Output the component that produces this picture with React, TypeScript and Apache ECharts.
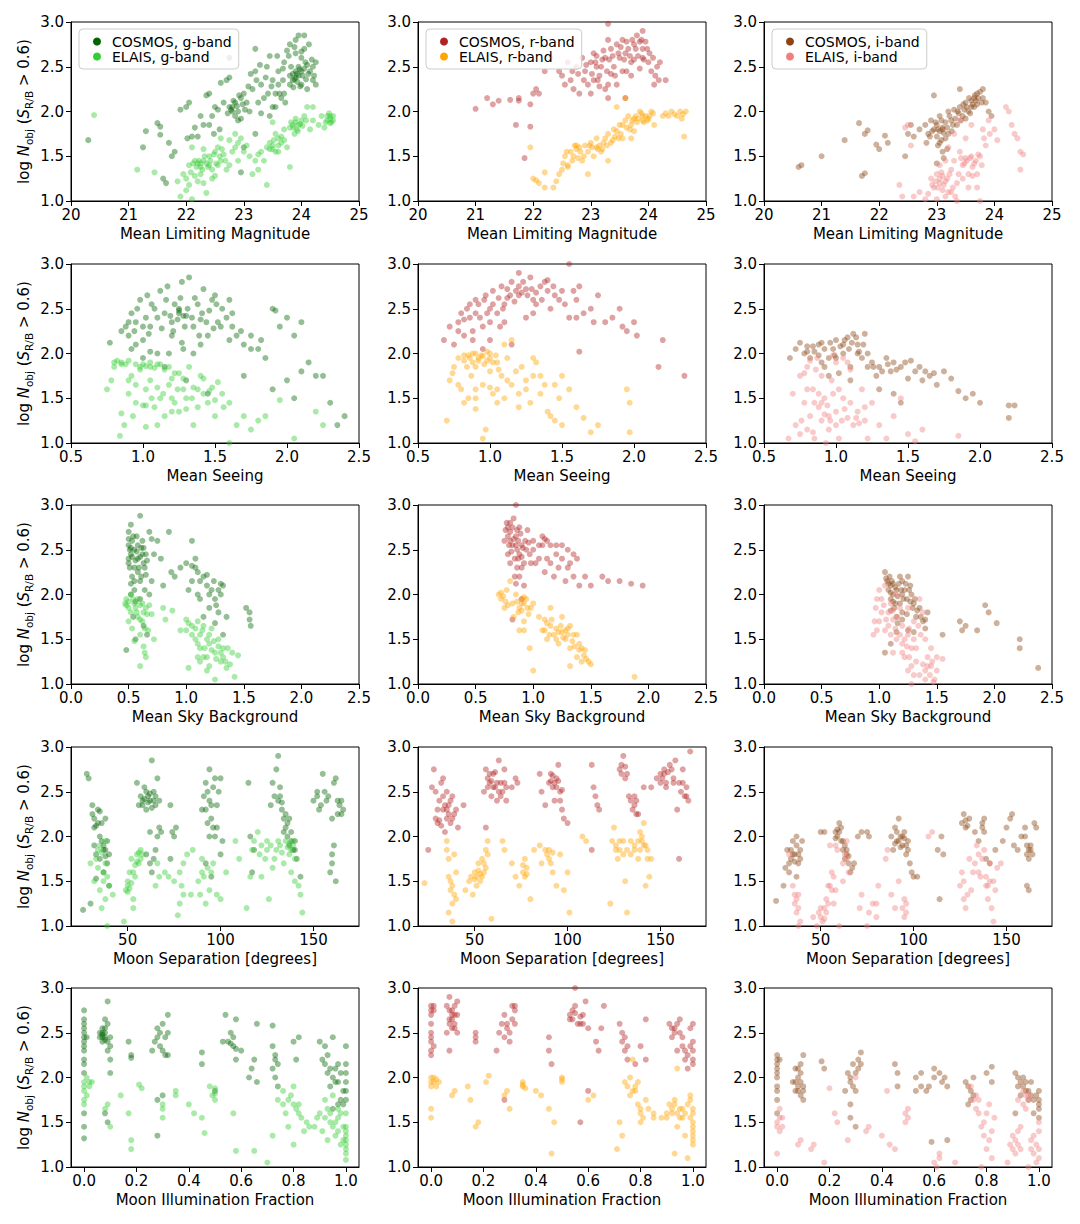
import React, { useEffect, useRef } from "react";
import * as echarts from "echarts";

// ---------- colours ----------
const C_COSMOS_G = "#006400";
const C_ELAIS_G = "#32cd32";
const C_COSMOS_R = "#b22222";
const C_ELAIS_R = "#ffa500";
const C_COSMOS_I = "#8b4513";
const C_ELAIS_I = "#f08080";

const seriesNames = [
  ["COSMOS, g-band", "ELAIS, g-band"],
  ["COSMOS, r-band", "ELAIS, r-band"],
  ["COSMOS, i-band", "ELAIS, i-band"],
];
const seriesColors = [
  [C_COSMOS_G, C_ELAIS_G],
  [C_COSMOS_R, C_ELAIS_R],
  [C_COSMOS_I, C_ELAIS_I],
];

// ---------- axis tick labels ----------
const magTicks = [20, 21, 22, 23, 24, 25];
const seeingTicks = [0.5, 1.0, 1.5, 2.0, 2.5];
const skyTicks = [0, 0.5, 1.0, 1.5, 2.0, 2.5];
const sepTicks = [50, 100, 150];
const illumTicks = [0, 0.2, 0.4, 0.6, 0.8, 1.0];

// ---------- row 1 : mean limiting magnitude ----------
const magCosmosG = [[20.3,1.68],[21.3,1.78],[21.25,1.6],[21.5,1.87],[21.55,1.83],[21.55,1.74],[21.6,1.25],[21.65,1.2],[21.7,1.65],[21.75,1.5],[21.8,1.55],[21.9,2.02],[22.0,2.05],[22.05,2.1],[22.1,1.72],[22.2,1.72],[22.3,1.85],[22.35,2.18],[22.4,2.2],[22.45,1.95],[22.5,2.05],[22.55,2.02],[22.6,2.32],[22.65,2.1],[22.7,2.35],[22.75,2.38],[22.75,2.6],[22.8,2.05],[22.85,2.1],[22.9,2.0],[22.85,1.95],[22.95,2.15],[23.0,2.2],[23.05,2.1],[23.1,2.0],[23.15,2.25],[23.2,2.45],[23.2,2.7],[23.3,2.3],[23.35,2.15],[23.4,2.5],[23.45,2.62],[23.5,2.05],[23.5,2.35],[23.55,2.2],[23.6,2.45],[23.6,2.3],[23.65,2.15],[23.7,2.55],[23.75,2.68],[23.8,2.75],[23.8,2.4],[23.85,2.35],[23.9,2.38],[23.9,2.45],[23.92,2.42],[23.95,2.5],[24.0,2.3],[24.0,2.6],[24.05,2.48],[24.05,2.7],[24.1,2.52],[24.1,2.25],[24.15,2.45],[24.2,2.35],[24.2,2.5],[24.25,2.3],[23.95,2.85],[23.9,2.8],[24.05,2.85],[22.9,1.9],[22.95,1.32],[23.2,1.75],[23.0,1.6],[23.9,2.65],[24.0,2.67],[23.7,2.2],[23.8,2.3],[22.75,2.05],[22.8,2.0],[23.95,2.4],[24.0,2.45]];
const magCosmosG2 = [[23.85,2.42],[23.88,2.36],[23.93,2.33],[23.97,2.47],[24.02,2.4],[24.07,2.55],[24.12,2.42],[23.82,2.5],[23.98,2.28],[24.08,2.36],[23.86,2.27],[24.18,2.58],[24.22,2.4],[23.78,2.62],[23.88,2.72],[24.13,2.75],[24.25,2.55],[22.78,2.02],[22.82,2.12],[22.88,2.06],[22.92,2.18],[22.98,2.08],[23.02,2.02],[22.72,1.98],[22.95,1.92],[23.08,2.28],[23.25,2.1],[23.38,2.38],[23.42,2.2],[23.48,2.28],[23.55,2.05],[23.62,2.2],[23.68,2.35],[23.72,2.1],[23.45,1.95],[23.3,1.98],[23.22,2.35],[22.58,1.8],[22.48,1.75],[22.4,1.85],[22.25,1.95],[22.15,1.82],[22.02,1.7],[23.12,2.42],[23.28,2.52],[23.58,2.62],[23.68,2.48]];
const magElaisG = [[20.4,1.96],[21.15,1.35],[21.45,1.32],[21.85,1.22],[21.9,1.05],[21.95,1.3],[22.0,1.25],[22.0,1.12],[22.05,1.18],[22.05,1.4],[22.1,1.6],[22.15,1.45],[22.2,1.42],[22.25,1.38],[22.25,1.3],[22.3,1.45],[22.35,1.42],[22.35,1.09],[22.4,1.5],[22.45,1.35],[22.5,1.55],[22.5,1.28],[22.55,1.6],[22.55,1.4],[22.6,1.45],[22.6,1.7],[22.65,1.52],[22.7,1.35],[22.75,1.68],[22.8,1.55],[22.85,1.75],[22.9,1.65],[22.2,1.22],[22.1,1.02],[22.3,1.2],[23.0,1.55],[23.1,1.5],[23.15,1.3],[23.2,1.45],[23.3,1.55],[23.35,1.45],[23.4,1.6],[23.45,1.65],[23.5,1.58],[23.55,1.75],[23.5,1.88],[23.6,1.7],[23.65,1.65],[23.7,1.8],[23.75,1.6],[23.8,1.82],[23.85,1.85],[23.9,1.88],[23.95,1.85],[23.92,1.8],[24.0,1.9],[24.05,1.95],[24.1,2.05],[24.2,1.9],[24.3,1.85],[24.35,1.95],[24.45,1.9],[24.5,1.95],[24.55,1.9],[24.5,1.87],[23.8,1.38],[23.4,1.18],[23.25,1.35],[24.2,2.05],[24.15,1.8],[24.4,1.82],[22.9,1.45],[23.6,1.55],[22.25,1.42],[22.4,1.4]];
const magElaisG2 = [[22.12,1.42],[22.18,1.38],[22.22,1.45],[22.28,1.35],[22.32,1.5],[22.38,1.38],[22.42,1.45],[22.48,1.52],[22.52,1.42],[22.58,1.5],[22.62,1.58],[22.68,1.45],[22.15,1.28],[22.45,1.25],[22.08,1.32],[22.3,1.58],[23.82,1.88],[23.86,1.82],[23.9,1.92],[23.94,1.78],[23.98,1.86],[24.02,1.84],[23.88,1.75],[24.08,1.9],[23.45,1.58],[23.5,1.62],[23.55,1.55],[23.6,1.62],[23.65,1.72],[23.7,1.68],[23.52,1.68],[24.45,1.95],[24.5,1.92],[24.52,1.88],[24.55,1.95],[24.48,1.98],[24.42,1.88],[22.85,1.6],[23.05,1.62],[23.25,1.52],[22.75,1.4],[22.95,1.7]];
const magCosmosR = [[21.0,2.03],[21.2,2.15],[21.3,2.08],[21.4,2.12],[21.6,2.13],[21.75,2.15],[21.75,2.12],[21.7,1.85],[21.95,1.83],[21.85,1.48],[21.95,2.08],[22.0,2.2],[22.05,2.25],[22.1,2.2],[22.2,2.45],[22.3,2.6],[22.45,2.45],[22.55,2.3],[22.65,2.35],[22.7,2.25],[22.75,2.5],[22.8,2.2],[22.85,2.6],[22.9,2.45],[22.95,2.3],[23.0,2.55],[23.0,2.2],[23.05,2.65],[23.1,2.5],[23.15,2.4],[23.2,2.58],[23.25,2.6],[23.3,2.3],[23.3,2.15],[23.35,2.7],[23.4,2.5],[23.45,2.75],[23.5,2.6],[23.55,2.45],[23.55,2.8],[23.6,2.65],[23.65,2.7],[23.7,2.55],[23.75,2.75],[23.8,2.85],[23.85,2.78],[23.9,2.7],[23.95,2.78],[24.0,2.55],[24.05,2.45],[24.1,2.3],[24.15,2.5],[24.2,2.55],[24.3,2.35],[23.3,2.98],[23.9,2.9],[23.3,2.8],[23.6,2.15],[22.6,2.55],[23.1,2.62],[23.7,2.4],[23.9,2.6]];
const magCosmosR2 = [[23.02,2.42],[23.08,2.55],[23.12,2.35],[23.18,2.5],[23.22,2.68],[23.28,2.45],[23.32,2.58],[23.38,2.62],[23.42,2.4],[23.48,2.65],[23.52,2.72],[23.58,2.58],[23.62,2.78],[23.68,2.62],[23.72,2.8],[23.78,2.7],[23.82,2.62],[23.88,2.8],[23.92,2.58],[23.98,2.7],[24.02,2.65],[24.08,2.6],[24.12,2.4],[24.18,2.35],[23.45,2.3],[23.25,2.25],[23.15,2.28],[22.88,2.35],[22.92,2.52],[22.78,2.42],[23.05,2.35],[23.35,2.42],[23.62,2.45],[23.75,2.58],[23.85,2.48],[22.68,2.45],[22.5,2.4]];
const magElaisR = [[21.95,1.6],[22.0,1.25],[22.05,1.23],[22.1,1.2],[22.2,1.15],[22.35,1.15],[22.45,1.3],[22.5,1.35],[22.55,1.5],[22.6,1.4],[22.65,1.55],[22.7,1.5],[22.75,1.58],[22.8,1.6],[22.85,1.45],[22.9,1.62],[22.95,1.55],[23.0,1.65],[23.05,1.5],[23.1,1.7],[23.15,1.62],[23.2,1.58],[23.25,1.7],[23.3,1.75],[23.35,1.65],[23.4,1.8],[23.45,1.78],[23.5,1.85],[23.55,1.7],[23.6,1.9],[23.65,1.95],[23.7,1.85],[23.75,1.92],[23.8,1.88],[23.85,2.0],[23.9,1.9],[23.95,1.95],[24.0,1.92],[24.05,2.0],[24.1,1.85],[24.3,1.98],[24.4,2.0],[24.5,1.95],[24.6,1.97],[24.65,2.0],[24.62,1.72],[23.45,2.05],[23.6,2.15],[22.95,1.3],[22.6,1.38],[23.7,1.7],[22.4,1.22],[23.3,1.45],[22.2,1.32],[22.75,1.62],[23.1,1.6],[23.9,1.95]];
const magElaisR2 = [[23.72,1.9],[23.78,1.95],[23.82,1.92],[23.88,1.98],[23.92,1.88],[23.98,1.9],[24.02,1.95],[24.08,1.98],[23.68,1.8],[23.62,1.82],[23.52,1.75],[23.48,1.7],[23.42,1.72],[23.38,1.68],[23.28,1.62],[23.22,1.65],[23.18,1.55],[23.12,1.58],[23.02,1.6],[22.98,1.62],[22.88,1.5],[22.82,1.55],[22.78,1.48],[22.72,1.62],[22.68,1.45],[22.58,1.55],[22.52,1.42],[24.35,1.95],[24.45,1.97],[24.55,2.0],[24.58,1.92],[24.25,1.95],[23.55,1.85],[23.75,1.78]];
const magCosmosI = [[20.6,1.38],[20.65,1.4],[21.0,1.5],[21.4,1.68],[21.65,1.87],[21.75,1.75],[21.8,1.79],[21.7,1.28],[21.75,1.31],[21.95,1.63],[22.0,1.58],[22.1,1.73],[22.15,1.65],[22.45,1.5],[22.5,1.75],[22.55,1.85],[22.6,1.72],[22.7,1.8],[22.8,1.85],[22.85,1.75],[22.9,1.9],[22.95,1.8],[23.0,1.85],[23.0,1.72],[23.05,1.65],[23.05,1.95],[23.1,1.8],[23.1,1.55],[23.15,1.88],[23.2,1.75],[23.2,2.0],[23.25,1.9],[23.3,2.02],[23.35,1.85],[23.4,2.05],[23.45,1.95],[23.5,2.1],[23.5,1.92],[23.55,2.0],[23.6,2.12],[23.6,2.05],[23.65,2.15],[23.7,2.2],[23.7,2.08],[23.75,2.22],[23.8,2.15],[23.85,2.1],[23.9,2.0],[23.95,1.95],[23.0,1.42],[22.95,2.18],[23.4,2.25],[23.8,2.25],[23.1,1.82],[23.05,1.78],[23.15,1.7],[23.65,2.05]];
const magCosmosI2 = [[22.92,1.78],[22.98,1.88],[23.02,1.8],[23.08,1.9],[23.12,1.76],[23.18,1.82],[23.22,1.95],[23.28,1.85],[23.32,1.92],[23.38,1.98],[23.42,1.9],[23.48,2.02],[23.52,2.05],[23.58,1.98],[23.62,2.08],[23.68,2.12],[23.72,2.15],[23.78,2.1],[23.66,2.18],[23.56,2.15],[23.46,2.08],[23.36,2.0],[23.26,1.78],[23.08,1.68],[23.02,1.62],[22.88,1.72],[22.82,1.65],[23.18,1.58],[23.12,1.48]];
const magElaisI = [[22.35,1.18],[22.4,1.05],[22.45,1.82],[22.5,1.85],[22.55,1.62],[22.6,1.05],[22.7,1.1],[22.8,1.02],[22.9,1.25],[22.95,1.15],[23.0,1.3],[23.05,1.2],[23.1,1.28],[23.15,1.22],[23.2,1.1],[23.25,1.35],[23.3,1.45],[23.35,1.2],[23.4,1.55],[23.45,1.4],[23.5,1.48],[23.55,1.3],[23.6,1.5],[23.65,1.42],[23.7,1.15],[23.75,1.5],[23.8,1.8],[23.85,1.62],[23.9,1.9],[24.0,1.8],[24.05,1.68],[24.2,2.05],[24.25,2.0],[24.3,1.85],[24.35,1.75],[24.4,1.7],[24.45,1.55],[24.5,1.52],[24.45,1.35],[23.3,1.75],[23.4,1.9],[23.5,1.7],[23.2,1.6],[23.6,1.85],[23.0,1.02],[23.35,1.0],[23.15,1.45],[23.7,1.3],[23.75,1.0],[23.05,1.25],[23.1,1.12]];
const magElaisI2 = [[22.92,1.18],[22.98,1.22],[23.02,1.15],[23.08,1.32],[23.12,1.18],[23.18,1.25],[23.22,1.3],[23.28,1.15],[23.32,1.05],[23.38,1.3],[23.42,1.48],[23.48,1.42],[23.52,1.45],[23.58,1.48],[23.62,1.38],[23.68,1.45],[23.72,1.52],[23.78,1.4],[23.05,1.4],[22.85,1.08],[23.15,1.05],[23.25,1.1],[23.45,1.25],[23.55,1.15],[23.62,1.28],[23.82,1.7],[23.92,1.75]];

// ---------- row 2 : mean seeing ----------
const seeCosmosG = [[0.77,2.12],[0.85,2.25],[0.88,2.3],[0.9,2.2],[0.92,2.45],[0.95,2.35],[0.98,2.6],[1.0,2.15],[1.02,2.4],[1.03,2.65],[1.05,2.3],[1.08,2.5],[1.1,2.0],[1.12,2.7],[1.15,2.45],[1.17,2.75],[1.2,2.35],[1.22,2.55],[1.25,2.5],[1.25,2.45],[1.27,2.8],[1.28,2.05],[1.3,2.42],[1.32,2.85],[1.35,2.3],[1.38,2.55],[1.4,2.38],[1.42,2.72],[1.45,2.2],[1.48,2.6],[1.5,2.65],[1.52,2.35],[1.55,2.5],[1.58,2.4],[1.6,2.15],[1.62,2.3],[1.65,2.2],[1.7,2.1],[1.75,2.2],[1.8,2.05],[1.85,1.95],[1.9,2.5],[1.92,2.48],[1.95,2.3],[2.0,2.4],[2.05,2.2],[2.1,2.35],[2.15,1.9],[2.2,1.75],[2.25,1.75],[2.3,1.45],[2.35,1.2],[2.4,1.3],[2.0,1.7],[1.9,1.6],[1.7,1.75],[1.05,2.02],[0.95,2.1],[1.2,2.2],[1.35,2.0],[1.15,1.85],[1.3,1.7],[1.45,1.55],[2.05,1.5],[2.1,1.8],[1.6,2.6],[1.25,2.48],[1.28,2.42]];
const seeCosmosG2 = [[0.9,2.35],[0.94,2.25],[0.96,2.5],[1.0,2.3],[1.04,2.22],[1.06,2.55],[1.1,2.4],[1.13,2.28],[1.16,2.6],[1.19,2.42],[1.21,2.25],[1.24,2.38],[1.26,2.62],[1.29,2.3],[1.31,2.5],[1.34,2.4],[1.36,2.62],[1.39,2.2],[1.41,2.45],[1.44,2.35],[1.46,2.48],[1.49,2.28],[1.51,2.55],[1.54,2.3],[1.27,2.12],[1.0,1.95],[0.92,2.05],[1.18,2.0],[1.4,2.1],[1.62,2.45],[1.68,2.25],[1.75,2.05],[1.82,2.15]];
const seeElaisG = [[0.75,1.6],[0.78,1.7],[0.8,1.9],[0.82,1.92],[0.85,1.33],[0.84,1.08],[0.87,1.2],[0.88,1.88],[0.9,1.55],[0.92,1.75],[0.95,1.45],[0.98,1.85],[1.0,1.88],[1.0,1.42],[1.02,1.6],[1.05,1.85],[1.05,1.7],[1.08,1.4],[1.1,1.88],[1.12,1.5],[1.15,1.82],[1.15,1.3],[1.18,1.65],[1.2,1.72],[1.22,1.45],[1.25,1.35],[1.25,1.78],[1.28,1.6],[1.3,1.5],[1.32,1.85],[1.35,1.62],[1.38,1.4],[1.4,1.75],[1.42,1.55],[1.45,1.45],[1.48,1.62],[1.5,1.3],[1.52,1.68],[1.55,1.55],[1.6,1.45],[1.65,1.2],[1.7,1.3],[1.75,1.15],[1.8,1.25],[1.85,1.3],[1.95,1.48],[2.05,1.05],[2.2,1.35],[2.25,1.2],[1.6,1.0],[0.93,1.3],[1.1,1.2],[1.02,1.18],[1.35,1.2],[1.05,1.9],[0.85,1.9]];
const seeElaisG2 = [[0.8,1.85],[0.85,1.88],[0.9,1.92],[0.95,1.88],[0.98,1.82],[1.02,1.86],[1.08,1.84],[1.12,1.88],[1.18,1.85],[1.22,1.78],[1.02,1.42],[1.06,1.5],[1.1,1.62],[1.14,1.55],[1.2,1.5],[1.24,1.6],[1.28,1.72],[1.34,1.5],[1.38,1.6],[1.42,1.72],[1.46,1.58],[1.5,1.48],[0.95,1.65],[0.9,1.7],[1.3,1.38],[1.2,1.35],[1.56,1.4]];
const seeCosmosR = [[0.68,2.15],[0.72,2.3],[0.75,2.1],[0.78,2.35],[0.8,2.45],[0.82,2.2],[0.84,2.5],[0.86,2.4],[0.88,2.25],[0.9,2.6],[0.92,2.55],[0.95,2.3],[0.97,2.65],[1.0,2.5],[1.02,2.7],[1.05,2.45],[1.08,2.75],[1.1,2.55],[1.12,2.62],[1.15,2.8],[1.18,2.7],[1.2,2.9],[1.22,2.68],[1.25,2.72],[1.28,2.85],[1.3,2.6],[1.32,2.55],[1.35,2.75],[1.38,2.8],[1.4,2.7],[1.42,2.5],[1.45,2.65],[1.5,2.7],[1.52,2.55],[1.55,3.0],[1.55,2.4],[1.6,2.6],[1.62,2.75],[1.65,2.45],[1.7,2.5],[1.75,2.65],[1.8,2.35],[1.85,2.4],[1.9,2.5],[1.92,2.3],[1.95,2.25],[2.0,2.35],[2.02,2.2],[1.62,2.02],[2.2,2.15],[2.17,1.85],[2.35,1.75],[1.1,2.35],[1.25,2.4],[0.95,2.05],[1.0,2.15],[1.15,2.1],[1.2,2.65]];
const seeCosmosR2 = [[0.82,2.38],[0.86,2.55],[0.9,2.45],[0.93,2.4],[0.96,2.6],[0.98,2.45],[1.02,2.55],[1.06,2.62],[1.09,2.5],[1.12,2.72],[1.14,2.65],[1.17,2.58],[1.2,2.75],[1.23,2.8],[1.26,2.65],[1.29,2.72],[1.32,2.68],[1.36,2.6],[1.4,2.82],[1.44,2.75],[1.48,2.6],[1.58,2.7],[0.88,2.15],[0.78,2.25],[1.0,2.35],[1.07,2.3],[1.3,2.45],[1.6,2.4],[1.72,2.35]];
const seeElaisR = [[0.7,1.25],[0.72,1.7],[0.74,1.78],[0.75,1.85],[0.78,1.95],[0.8,1.6],[0.82,1.92],[0.85,1.5],[0.85,1.98],[0.88,2.0],[0.9,1.85],[0.9,1.38],[0.92,1.95],[0.95,1.65],[0.95,1.05],[0.97,1.15],[0.98,1.92],[1.0,1.8],[1.02,1.55],[1.05,1.9],[1.05,1.45],[1.08,1.75],[1.1,2.1],[1.1,1.5],[1.12,1.95],[1.15,1.65],[1.18,1.8],[1.2,1.4],[1.22,1.85],[1.25,1.6],[1.28,1.45],[1.3,1.75],[1.32,1.9],[1.35,1.55],[1.38,1.65],[1.4,1.35],[1.42,1.3],[1.45,1.25],[1.48,1.5],[1.5,1.75],[1.55,1.6],[1.6,1.4],[1.65,1.28],[1.7,1.12],[1.75,1.2],[1.95,1.6],[1.97,1.45],[1.97,1.12],[1.5,1.2],[0.9,1.6],[1.15,2.15],[1.3,1.95],[0.95,1.97],[1.0,2.0]];
const seeElaisR2 = [[0.82,1.98],[0.86,1.95],[0.88,1.9],[0.9,2.0],[0.92,1.92],[0.94,1.98],[0.96,1.88],[0.98,2.02],[1.0,1.95],[1.02,1.9],[1.04,1.98],[0.84,1.85],[0.87,1.75],[1.06,1.82],[1.12,1.7],[0.78,1.65],[0.9,1.5],[1.0,1.62],[1.2,1.55],[1.25,1.7],[1.35,1.75],[1.45,1.65],[1.05,1.6],[0.82,1.45]];
const seeCosmosI = [[0.68,1.95],[0.72,2.05],[0.75,2.12],[0.78,2.0],[0.8,2.08],[0.82,1.95],[0.85,2.02],[0.88,2.1],[0.9,1.9],[0.92,1.85],[0.95,1.95],[0.98,2.05],[1.0,2.15],[1.02,1.78],[1.05,2.0],[1.08,2.18],[1.1,1.85],[1.12,2.22],[1.15,2.1],[1.18,1.95],[1.2,2.22],[1.22,1.85],[1.25,1.9],[1.28,1.75],[1.3,1.85],[1.35,1.95],[1.38,1.8],[1.4,1.9],[1.45,1.85],[1.5,1.72],[1.52,1.92],[1.55,1.8],[1.6,1.7],[1.65,1.75],[1.7,1.65],[1.75,1.8],[1.8,1.72],[1.85,1.58],[1.9,1.5],[1.95,1.55],[2.0,1.45],[2.2,1.42],[2.24,1.42],[2.2,1.28],[1.45,1.45],[1.4,1.55],[1.3,1.6],[1.1,1.7],[0.95,1.75],[1.05,2.1],[1.15,2.0]];
const seeCosmosI2 = [[0.8,2.02],[0.84,2.08],[0.88,1.98],[0.92,2.05],[0.96,2.12],[0.99,1.98],[1.03,2.08],[1.06,2.15],[1.09,2.05],[1.11,2.12],[1.14,2.18],[1.16,2.02],[1.19,2.1],[1.22,2.0],[1.26,1.85],[1.32,1.8],[1.36,1.88],[1.42,1.82],[1.48,1.9],[1.58,1.85],[1.62,1.8],[1.68,1.78],[1.0,1.95],[0.9,2.12]];
const seeElaisI = [[0.67,1.05],[0.7,1.55],[0.72,1.2],[0.75,1.1],[0.75,1.75],[0.78,1.45],[0.8,1.85],[0.82,1.3],[0.84,1.6],[0.85,1.05],[0.87,1.95],[0.88,1.4],[0.9,1.25],[0.92,1.5],[0.95,1.15],[0.97,1.7],[1.0,1.9],[1.0,1.35],[1.02,1.05],[1.05,1.5],[1.08,1.28],[1.1,1.82],[1.12,1.2],[1.15,1.35],[1.18,1.6],[1.2,1.25],[1.22,1.05],[1.25,1.45],[1.3,1.2],[1.35,1.05],[1.4,1.3],[1.45,1.5],[1.5,1.1],[1.55,1.02],[1.6,1.15],[1.85,1.08],[0.9,1.75],[1.05,1.95],[0.8,1.6],[0.93,1.0],[0.85,1.45],[0.95,1.3]];
const seeElaisI2 = [[0.78,1.78],[0.82,1.92],[0.86,1.82],[0.88,1.55],[0.9,1.45],[0.92,1.32],[0.94,1.42],[0.96,1.25],[0.98,1.55],[1.02,1.6],[1.04,1.25],[1.06,1.38],[1.1,1.45],[1.14,1.28],[1.16,1.22],[1.2,1.4],[0.76,1.25],[0.8,1.15],[0.84,1.12],[1.0,1.2],[0.98,1.98],[1.08,1.9]];

// ---------- row 3 : mean sky background ----------
const skyCosmosG = [[0.48,1.38],[0.5,2.55],[0.5,2.7],[0.5,2.35],[0.52,2.45],[0.52,2.78],[0.53,2.2],[0.53,2.6],[0.54,1.75],[0.55,2.05],[0.55,2.3],[0.55,2.5],[0.56,1.5],[0.57,2.65],[0.58,2.4],[0.6,2.88],[0.6,2.15],[0.6,1.95],[0.61,2.52],[0.63,2.35],[0.63,1.65],[0.65,2.45],[0.65,2.22],[0.66,1.55],[0.68,2.7],[0.68,2.0],[0.7,2.15],[0.72,2.45],[0.75,2.6],[0.78,2.4],[0.8,2.1],[0.85,2.7],[0.87,2.25],[0.9,2.2],[0.95,2.3],[1.0,2.35],[1.02,2.05],[1.05,2.6],[1.05,2.15],[1.08,2.3],[1.1,2.0],[1.12,1.95],[1.15,2.2],[1.15,1.75],[1.18,2.1],[1.2,1.85],[1.22,2.05],[1.25,1.95],[1.25,1.68],[1.28,1.8],[1.3,2.12],[1.3,2.0],[1.32,1.55],[1.52,1.85],[1.55,1.8],[1.56,1.65],[1.55,1.72],[0.62,2.6],[0.52,2.0],[1.35,1.75],[0.5,2.4],[0.51,2.5],[0.58,2.25]];
const skyCosmosG2 = [[0.5,2.62],[0.51,2.3],[0.52,2.52],[0.53,2.42],[0.54,2.65],[0.55,2.15],[0.56,2.38],[0.57,2.48],[0.58,2.55],[0.59,2.3],[0.6,2.42],[0.61,2.2],[0.62,2.45],[0.63,2.52],[0.64,2.3],[0.66,2.38],[0.64,2.05],[0.56,1.92],[0.52,2.12],[1.1,2.25],[1.12,2.15],[1.18,2.22],[1.2,2.0],[1.24,2.15],[1.28,2.05],[1.32,2.1],[1.26,1.88],[1.05,2.32],[1.08,2.4],[0.7,2.62]];
const skyElaisG = [[0.47,1.9],[0.48,1.95],[0.5,1.85],[0.5,1.7],[0.52,2.0],[0.53,1.62],[0.55,1.9],[0.55,1.48],[0.57,1.8],[0.6,1.2],[0.6,1.72],[0.62,1.9],[0.63,1.42],[0.65,1.85],[0.65,1.3],[0.67,1.6],[0.7,1.78],[0.72,1.5],[0.8,1.85],[0.82,1.72],[0.88,1.82],[1.0,1.72],[1.0,1.6],[1.02,1.18],[1.05,1.65],[1.08,1.5],[1.1,1.7],[1.12,1.4],[1.12,1.55],[1.15,1.65],[1.15,1.3],[1.18,1.5],[1.2,1.2],[1.2,1.45],[1.22,1.62],[1.25,1.35],[1.25,1.05],[1.28,1.5],[1.3,1.25],[1.32,1.4],[1.35,1.18],[1.4,1.35],[1.42,1.08],[1.45,1.32],[1.18,1.15],[0.95,1.6],[1.1,1.3],[0.58,1.95],[0.63,1.8]];
const skyElaisG2 = [[0.48,1.88],[0.5,1.92],[0.52,1.8],[0.54,1.95],[0.56,1.85],[0.58,1.75],[0.6,1.88],[0.62,1.7],[0.64,1.62],[0.66,1.78],[0.68,1.88],[0.6,1.55],[0.64,1.35],[1.02,1.68],[1.05,1.55],[1.08,1.62],[1.1,1.45],[1.14,1.6],[1.16,1.4],[1.2,1.55],[1.22,1.38],[1.24,1.48],[1.26,1.28],[1.28,1.42],[1.3,1.35],[1.32,1.3],[1.34,1.25],[1.36,1.4],[1.38,1.22],[1.18,1.3],[1.12,1.25]];
const skyCosmosR = [[0.75,2.6],[0.77,2.8],[0.78,2.45],[0.8,2.7],[0.8,2.35],[0.82,2.55],[0.83,2.85],[0.84,2.2],[0.85,2.65],[0.85,3.0],[0.87,2.4],[0.88,2.75],[0.9,2.3],[0.9,2.55],[0.92,2.1],[0.93,2.6],[0.95,2.72],[0.97,2.45],[1.0,2.6],[1.02,2.35],[1.05,2.55],[1.08,2.65],[1.1,2.25],[1.1,2.62],[1.12,2.4],[1.15,2.55],[1.18,2.2],[1.2,2.45],[1.22,2.3],[1.25,2.55],[1.28,2.15],[1.3,2.5],[1.32,2.35],[1.35,2.2],[1.38,2.4],[1.4,2.1],[1.45,2.2],[1.5,2.1],[1.6,2.2],[1.65,2.15],[1.75,2.15],[1.85,2.12],[1.95,2.1],[0.82,1.72],[0.9,1.95],[0.78,2.75],[0.8,2.6],[0.86,2.5]];
const skyCosmosR2 = [[0.76,2.72],[0.78,2.65],[0.79,2.55],[0.8,2.8],[0.81,2.48],[0.82,2.75],[0.83,2.62],[0.84,2.4],[0.85,2.55],[0.86,2.72],[0.86,2.3],[0.87,2.6],[0.88,2.45],[0.89,2.68],[0.9,2.42],[0.91,2.52],[0.92,2.35],[0.94,2.5],[0.96,2.58],[0.98,2.35],[1.0,2.5],[1.05,2.4],[1.08,2.55],[1.12,2.6],[1.15,2.35],[1.2,2.55],[1.25,2.4],[1.3,2.3],[1.35,2.45],[0.88,2.2],[0.85,2.12]];
const skyElaisR = [[0.7,2.0],[0.72,1.95],[0.75,1.85],[0.77,2.05],[0.8,2.15],[0.82,1.9],[0.83,1.75],[0.85,2.0],[0.87,1.8],[0.9,1.95],[0.92,1.7],[0.95,1.85],[0.97,1.4],[1.0,1.9],[1.0,1.15],[1.05,1.75],[1.08,1.6],[1.1,1.72],[1.12,1.5],[1.15,1.65],[1.18,1.55],[1.2,1.62],[1.22,1.45],[1.25,1.58],[1.28,1.5],[1.3,1.62],[1.32,1.4],[1.32,1.2],[1.35,1.55],[1.38,1.3],[1.4,1.45],[1.42,1.25],[1.45,1.38],[1.48,1.25],[1.5,1.22],[1.88,1.08],[0.88,1.6],[1.15,1.85],[1.25,1.75],[0.9,1.9],[0.92,1.97]];
const skyElaisR2 = [[0.72,2.02],[0.74,1.98],[0.76,1.92],[0.78,1.88],[0.86,1.92],[0.88,1.85],[0.9,1.82],[0.92,1.9],[0.94,1.95],[0.96,1.78],[0.98,1.85],[0.92,1.6],[1.1,1.6],[1.12,1.68],[1.14,1.55],[1.16,1.72],[1.2,1.5],[1.22,1.58],[1.24,1.65],[1.26,1.52],[1.28,1.6],[1.3,1.55],[1.32,1.65],[1.34,1.48],[1.36,1.42],[1.38,1.55],[1.4,1.38],[1.42,1.4],[1.44,1.32],[1.46,1.28]];
const skyCosmosI = [[1.05,2.25],[1.07,2.15],[1.08,2.05],[1.1,1.95],[1.1,2.1],[1.12,2.0],[1.13,1.85],[1.15,2.05],[1.15,1.75],[1.18,1.9],[1.2,2.15],[1.2,1.8],[1.22,2.05],[1.24,1.95],[1.25,2.2],[1.25,1.6],[1.28,2.0],[1.3,1.9],[1.3,1.58],[1.32,1.75],[1.35,1.85],[1.38,1.7],[1.4,1.62],[1.42,1.8],[1.1,1.45],[1.05,1.35],[1.15,1.58],[1.7,1.7],[1.72,1.6],[1.75,1.65],[1.85,1.6],[1.92,1.88],[1.95,1.8],[2.02,1.68],[2.22,1.5],[2.22,1.4],[2.38,1.18],[1.55,1.55],[1.18,2.2],[1.12,2.12],[1.2,2.0],[1.27,2.1]];
const skyCosmosI2 = [[1.06,2.18],[1.08,2.12],[1.09,2.2],[1.1,2.02],[1.11,2.15],[1.12,1.92],[1.14,2.08],[1.16,1.98],[1.17,2.12],[1.19,2.05],[1.21,1.95],[1.23,2.12],[1.26,2.05],[1.27,1.92],[1.29,1.85],[1.31,1.95],[1.33,1.82],[1.36,1.75],[1.16,1.68],[1.2,1.72],[1.1,1.82],[1.14,1.9],[1.24,1.78],[1.4,1.72]];
const skyElaisI = [[0.95,1.55],[0.97,1.85],[1.0,2.05],[1.0,1.7],[1.02,1.95],[1.05,1.6],[1.08,1.8],[1.1,1.9],[1.12,1.72],[1.15,2.0],[1.15,1.5],[1.18,1.85],[1.2,1.45],[1.2,1.65],[1.22,1.3],[1.25,1.55],[1.25,1.15],[1.28,1.4],[1.28,1.0],[1.3,1.7],[1.32,1.25],[1.35,1.1],[1.38,1.8],[1.4,1.05],[1.42,1.3],[1.45,1.2],[1.45,1.4],[1.47,1.02],[1.5,1.15],[1.55,1.28],[1.25,1.85],[1.35,1.95],[1.05,2.1],[1.12,1.35],[1.4,1.5],[0.98,1.6]];
const skyElaisI2 = [[1.02,1.8],[1.04,1.88],[1.06,1.72],[1.08,1.65],[1.1,1.55],[1.12,1.82],[1.14,1.62],[1.16,1.75],[1.18,1.55],[1.2,1.35],[1.22,1.5],[1.24,1.42],[1.26,1.3],[1.28,1.2],[1.3,1.5],[1.32,1.4],[1.34,1.65],[1.36,1.55],[1.38,1.22],[1.4,1.15],[1.42,1.2],[1.44,1.1],[1.46,1.25],[1.48,1.05],[1.5,1.3],[1.3,1.1],[1.26,1.62],[0.96,1.7],[0.98,1.95]];

// ---------- row 4 : moon separation ----------
const sepCosmosG = [[26,1.18],[28,2.7],[29,2.65],[30,1.25],[31,2.35],[32,2.2],[32,2.1],[33,1.8],[34,2.3],[35,2.0],[35,1.75],[36,2.15],[37,1.9],[38,2.2],[38,1.85],[39,1.95],[40,1.8],[40,1.45],[37,1.6],[33,1.53],[55,2.6],[56,2.35],[57,2.45],[58,2.4],[59,2.55],[60,2.3],[61,2.45],[62,2.4],[63,2.85],[64,2.5],[65,2.35],[66,2.65],[67,2.4],[68,2.05],[60,1.8],[62,1.7],[63,1.6],[64,1.75],[65,1.85],[73,2.35],[74,2.05],[75,2.0],[73,1.75],[76,2.1],[90,2.3],[91,2.45],[92,2.6],[93,2.15],[94,2.75],[95,2.35],[96,2.55],[97,2.0],[98,2.1],[99,2.5],[100,2.65],[101,1.95],[95,1.55],[92,1.7],[100,1.8],[115,2.6],[116,2.0],[117,1.6],[118,1.85],[127,2.35],[128,2.6],[129,2.45],[130,2.75],[131,2.9],[132,2.45],[133,2.3],[134,2.2],[135,2.25],[136,2.0],[137,2.2],[138,1.95],[140,1.85],[141,1.75],[143,1.55],[150,2.4],[152,2.5],[153,2.3],[155,2.7],[157,2.4],[160,2.2],[161,2.6],[162,2.65],[163,2.25],[164,2.35],[165,2.4],[166,2.3],[160,1.7],[161,1.9],[162,1.5],[159,1.6]];
const sepCosmosG2 = [[31,2.25],[33,2.12],[34,2.15],[35,2.28],[36,1.95],[37,1.85],[38,1.78],[39,1.7],[32,1.9],[58,2.35],[59,2.42],[60,2.5],[61,2.38],[62,2.48],[63,2.32],[64,2.4],[65,2.45],[62,2.05],[66,2.0],[67,2.1],[92,2.3],[93,2.5],[94,2.4],[95,2.2],[96,2.1],[97,2.65],[98,2.35],[94,2.0],[131,2.4],[132,2.55],[133,2.38],[134,2.05],[135,2.1],[136,2.15],[137,1.9],[138,2.05],[139,1.85],[140,1.95],[152,2.45],[154,2.35],[156,2.5],[158,2.45],[163,2.4],[165,2.25],[160,1.8]];
const sepElaisG = [[30,1.7],[32,1.5],[34,1.85],[35,1.4],[36,1.2],[37,1.6],[38,1.95],[38,1.3],[39,1.0],[40,1.45],[42,1.35],[48,1.05],[49,1.4],[50,1.45],[51,1.6],[52,1.75],[53,1.3],[54,1.55],[55,1.8],[56,1.7],[57,1.85],[50,1.5],[53,1.2],[65,1.45],[66,1.7],[67,1.55],[70,1.6],[72,1.55],[75,1.5],[77,1.12],[78,1.25],[79,1.45],[80,1.7],[82,1.8],[84,1.35],[85,1.85],[88,1.5],[89,1.35],[90,1.75],[92,1.25],[95,1.6],[96,1.7],[98,1.35],[100,1.3],[103,1.6],[108,1.95],[110,1.75],[114,1.2],[116,1.55],[120,2.05],[121,1.8],[122,1.9],[124,1.75],[125,1.95],[126,1.3],[128,1.65],[130,1.85],[132,1.9],[134,1.7],[135,1.95],[137,1.8],[138,1.6],[139,1.9],[140,1.5],[142,1.45],[143,1.35],[144,1.15]];
const sepElaisG2 = [[33,1.75],[34,1.65],[35,1.9],[36,1.82],[37,1.5],[38,1.7],[39,1.55],[50,1.38],[51,1.42],[52,1.48],[53,1.6],[54,1.68],[55,1.72],[56,1.82],[57,1.75],[58,1.8],[90,1.6],[91,1.55],[93,1.65],[94,1.4],[125,1.85],[127,1.9],[129,1.75],[131,1.95],[133,1.82],[136,1.88],[137,1.92],[138,1.85],[139,1.95],[140,1.75],[122,1.55],[117,1.85],[118,1.95],[78,1.6],[80,1.35]];
const sepCosmosR = [[27,2.55],[28,2.75],[29,2.5],[30,2.15],[31,2.4],[32,2.6],[33,2.3],[34,2.05],[35,2.2],[36,2.35],[37,2.15],[38,2.45],[39,2.25],[40,2.3],[41,2.1],[33,2.65],[35,2.5],[25,1.85],[44,2.35],[55,2.5],[56,2.75],[57,2.65],[58,2.6],[59,2.45],[60,2.7],[61,2.55],[62,2.4],[63,2.85],[64,2.6],[65,2.5],[66,2.75],[67,2.4],[70,2.55],[72,2.65],[73,2.6],[56,2.1],[85,2.7],[86,2.5],[88,2.35],[90,2.6],[91,2.7],[92,2.55],[93,2.4],[94,2.65],[95,2.8],[96,2.5],[97,2.3],[98,2.2],[100,2.15],[113,2.8],[114,2.55],[115,2.45],[116,2.35],[117,2.3],[128,2.75],[129,2.8],[130,2.9],[131,2.65],[132,2.7],[135,2.3],[136,2.45],[137,2.4],[138,2.25],[141,2.55],[145,2.55],[148,2.65],[150,2.7],[152,2.75],[153,2.6],[155,2.8],[157,2.65],[158,2.85],[160,2.6],[161,2.5],[162,2.75],[163,2.45],[164,2.55],[165,2.4],[166,2.95],[159,2.3],[160,1.75],[113,1.85]];
const sepCosmosR2 = [[29,2.2],[30,2.3],[31,2.18],[32,2.12],[33,2.45],[34,2.35],[35,2.3],[36,2.25],[37,2.4],[38,2.2],[57,2.55],[58,2.7],[59,2.62],[60,2.55],[61,2.72],[62,2.6],[63,2.5],[64,2.45],[66,2.6],[67,2.55],[91,2.62],[92,2.68],[93,2.6],[94,2.55],[95,2.62],[96,2.4],[97,2.52],[129,2.7],[131,2.78],[133,2.45],[134,2.4],[136,2.35],[137,2.25],[150,2.6],[151,2.65],[152,2.7],[153,2.55],[154,2.72],[156,2.75],[157,2.6],[162,2.6],[164,2.45]];
const sepElaisR = [[23,1.48],[35,1.95],[36,1.55],[37,1.4],[38,1.25],[39,1.8],[36,1.15],[38,1.05],[40,1.6],[45,1.4],[47,1.5],[48,1.55],[49,1.35],[50,1.6],[51,1.45],[52,1.7],[53,1.5],[54,1.75],[55,1.6],[56,1.85],[57,1.95],[59,1.08],[65,1.95],[66,1.85],[70,1.7],[72,1.55],[74,1.45],[76,1.6],[77,1.75],[78,1.65],[80,1.3],[82,1.85],[85,1.9],[86,1.7],[88,1.85],[90,1.75],[92,1.6],[94,1.45],[96,1.8],[98,1.4],[100,1.6],[101,1.15],[108,2.0],[110,1.95],[123,1.25],[124,1.95],[125,2.1],[126,1.85],[127,1.75],[128,1.85],[130,1.95],[131,1.5],[132,1.15],[134,1.8],[136,1.9],[138,1.75],[139,2.05],[140,1.95],[141,2.15],[142,1.9],[143,1.85],[142,1.45],[144,1.55],[145,1.75]];
const sepElaisR2 = [[35,1.85],[36,1.75],[37,1.5],[38,1.45],[39,1.35],[40,1.3],[50,1.52],[51,1.55],[52,1.62],[53,1.58],[54,1.55],[55,1.7],[56,1.65],[57,1.8],[76,1.68],[77,1.55],[78,1.58],[89,1.8],[90,1.85],[91,1.7],[92,1.82],[126,1.9],[128,1.95],[130,1.8],[132,1.85],[134,1.95],[136,1.85],[138,1.95],[139,1.85],[140,2.0],[141,1.9],[143,1.75]];
const sepCosmosI = [[26,1.28],[30,1.45],[31,1.65],[32,1.85],[33,1.6],[34,1.75],[35,1.95],[36,1.8],[37,2.0],[38,1.7],[39,1.85],[40,1.95],[37,1.55],[50,2.05],[52,2.05],[58,2.05],[59,2.0],[60,2.15],[61,1.95],[62,1.85],[63,1.75],[64,1.8],[65,1.7],[66,1.6],[67,1.65],[68,1.7],[70,2.0],[72,2.05],[75,2.05],[76,2.0],[88,2.0],[89,1.85],[90,2.1],[91,1.95],[92,2.2],[93,2.0],[94,1.9],[95,2.05],[96,1.8],[97,1.95],[98,1.7],[99,1.6],[100,1.55],[102,1.55],[113,1.85],[115,2.0],[116,1.8],[114,1.3],[126,2.15],[127,2.25],[128,2.1],[130,2.2],[133,2.05],[135,1.95],[137,2.15],[138,2.2],[139,1.75],[141,1.7],[144,1.85],[148,1.95],[150,2.1],[152,2.2],[153,2.25],[154,1.9],[156,1.85],[158,2.0],[160,2.1],[161,1.9],[162,1.75],[163,1.85],[165,2.15],[166,2.1],[161,1.45],[162,1.4]];
const sepCosmosI2 = [[33,1.7],[34,1.85],[35,1.8],[36,1.72],[37,1.9],[38,1.8],[39,1.75],[58,1.98],[59,2.08],[60,2.05],[61,2.1],[62,1.95],[63,1.9],[64,1.85],[65,1.78],[90,1.92],[91,2.05],[92,1.95],[93,1.88],[94,2.0],[95,1.98],[96,1.9],[97,1.85],[128,2.18],[129,2.12],[137,2.1],[138,2.05],[160,2.0],[161,1.8],[162,1.85],[163,1.9],[164,1.8]];
const sepElaisI = [[33,1.8],[35,1.45],[36,1.25],[37,1.15],[38,1.0],[38,1.35],[39,1.05],[46,1.1],[48,1.0],[49,1.15],[50,1.2],[52,1.08],[53,1.3],[54,1.45],[55,1.9],[56,1.6],[57,1.25],[58,1.4],[60,1.0],[62,1.5],[64,1.95],[65,1.6],[71,1.2],[72,1.35],[75,1.0],[76,1.15],[78,1.25],[80,1.1],[81,1.45],[85,1.75],[86,1.85],[88,1.35],[90,1.2],[92,1.5],[95,1.1],[96,1.25],[108,2.0],[110,2.05],[125,1.45],[126,1.6],[127,1.3],[128,1.2],[130,1.75],[131,1.4],[132,1.6],[134,1.9],[135,1.8],[136,1.55],[138,1.85],[139,1.45],[140,1.3],[141,1.5],[142,1.2],[143,1.05],[144,1.4],[145,1.65],[147,1.7]];
const sepElaisI2 = [[36,1.35],[37,1.3],[38,1.2],[50,1.1],[51,1.05],[52,1.2],[53,1.15],[54,1.25],[55,1.45],[56,1.4],[57,1.55],[58,1.9],[59,1.85],[62,1.7],[63,1.8],[64,1.75],[80,1.25],[94,1.2],[95,1.3],[96,1.15],[127,1.5],[129,1.35],[133,1.7],[135,1.6],[137,1.75],[139,1.55],[140,1.45],[141,1.7],[143,1.5]];

// ---------- row 5 : moon illumination fraction ----------
const illCosmosG = [[0.0,2.75],[0.0,2.65],[0.0,2.5],[0.0,2.4],[0.0,2.3],[0.0,2.2],[0.0,2.05],[0.0,1.6],[0.0,1.45],[0.0,1.32],[0.01,2.45],[0.06,2.45],[0.07,2.5],[0.07,2.4],[0.08,2.55],[0.08,2.65],[0.09,2.85],[0.09,2.3],[0.1,2.2],[0.1,2.45],[0.1,2.05],[0.08,1.6],[0.09,1.5],[0.17,2.4],[0.18,2.22],[0.18,2.25],[0.26,2.3],[0.27,2.4],[0.28,2.55],[0.28,1.75],[0.29,2.35],[0.3,2.6],[0.31,2.45],[0.32,2.7],[0.32,2.25],[0.28,1.35],[0.3,1.8],[0.45,2.28],[0.45,2.15],[0.5,1.85],[0.53,2.4],[0.54,2.7],[0.56,2.5],[0.57,2.35],[0.58,2.65],[0.58,2.2],[0.6,2.3],[0.63,2.0],[0.64,2.1],[0.65,2.2],[0.66,1.95],[0.66,2.6],[0.72,2.35],[0.73,2.2],[0.73,2.0],[0.74,1.9],[0.72,2.58],[0.8,2.4],[0.81,2.2],[0.82,2.45],[0.9,2.4],[0.91,2.2],[0.92,2.35],[0.93,2.05],[0.94,1.9],[0.95,2.45],[0.96,2.1],[0.97,1.95],[0.98,1.75],[1.0,2.05],[1.0,1.85],[1.0,2.35],[0.99,1.7],[0.95,1.65],[0.07,2.48],[0.08,2.45]];
const illCosmosG2 = [[0.0,2.45],[0.0,2.35],[0.0,2.55],[0.0,2.15],[0.0,2.6],[0.06,2.5],[0.07,2.55],[0.07,2.45],[0.08,2.5],[0.08,2.42],[0.09,2.4],[0.09,2.6],[0.1,2.35],[0.28,2.45],[0.29,2.5],[0.3,2.3],[0.31,2.25],[0.32,2.5],[0.55,2.4],[0.56,2.38],[0.57,2.45],[0.58,2.32],[0.73,2.25],[0.74,2.15],[0.72,2.1],[0.92,2.15],[0.93,2.25],[0.94,2.1],[0.95,2.0],[0.96,1.95],[0.97,2.15],[0.98,2.05],[0.99,1.85],[1.0,1.75],[1.0,1.95],[1.0,2.15],[0.97,1.7]];
const illElaisG = [[0.0,1.95],[0.0,1.85],[0.0,1.75],[0.01,2.0],[0.02,1.9],[0.03,1.95],[0.08,1.65],[0.09,1.7],[0.1,1.45],[0.14,1.8],[0.17,1.6],[0.18,1.3],[0.18,1.2],[0.21,1.92],[0.22,1.88],[0.3,1.55],[0.3,1.65],[0.35,1.85],[0.35,1.8],[0.4,1.7],[0.42,1.6],[0.45,1.55],[0.46,1.38],[0.48,1.9],[0.5,1.82],[0.5,1.75],[0.57,1.6],[0.58,1.18],[0.65,1.18],[0.7,1.05],[0.72,1.35],[0.74,1.75],[0.76,1.85],[0.77,1.6],[0.78,1.45],[0.8,1.9],[0.8,1.25],[0.82,1.7],[0.83,1.55],[0.84,1.4],[0.88,1.45],[0.89,1.55],[0.9,1.6],[0.91,1.4],[0.92,1.75],[0.93,1.3],[0.94,1.5],[0.95,1.8],[0.96,1.35],[0.97,1.55],[0.98,1.25],[0.99,1.45],[1.0,1.4],[1.0,1.6],[1.0,1.3],[1.0,1.15],[1.0,1.08],[0.97,1.65]];
const illElaisG2 = [[0.0,1.9],[0.01,1.8],[0.02,1.95],[0.0,1.7],[0.92,1.55],[0.93,1.65],[0.94,1.6],[0.95,1.45],[0.96,1.5],[0.97,1.4],[0.98,1.6],[0.99,1.3],[1.0,1.35],[1.0,1.45],[1.0,1.25],[1.0,1.2],[0.78,1.75],[0.79,1.8],[0.8,1.7],[0.81,1.65],[0.82,1.6],[0.76,1.7],[0.5,1.88],[0.49,1.8],[0.3,1.7],[0.85,1.5],[0.86,1.45]];
const illCosmosR = [[0.0,2.8],[0.0,2.7],[0.0,2.5],[0.0,2.4],[0.01,2.35],[0.01,2.75],[0.0,2.25],[0.06,2.8],[0.07,2.9],[0.07,2.65],[0.08,2.75],[0.08,2.55],[0.09,2.7],[0.09,2.6],[0.1,2.85],[0.1,2.5],[0.07,2.3],[0.17,2.45],[0.17,2.4],[0.17,2.5],[0.25,2.3],[0.26,2.5],[0.27,2.6],[0.28,2.7],[0.29,2.55],[0.3,2.4],[0.31,2.8],[0.32,2.75],[0.32,2.6],[0.28,1.75],[0.45,2.45],[0.45,2.3],[0.46,2.15],[0.53,2.65],[0.54,2.75],[0.55,2.8],[0.55,3.0],[0.57,2.6],[0.58,2.7],[0.59,2.85],[0.6,2.55],[0.63,2.4],[0.64,2.3],[0.65,2.55],[0.66,2.8],[0.6,1.85],[0.72,2.6],[0.73,2.5],[0.74,2.3],[0.75,2.2],[0.78,2.15],[0.8,2.35],[0.82,2.65],[0.82,2.2],[0.91,2.6],[0.92,2.45],[0.93,2.5],[0.94,2.3],[0.95,2.65],[0.96,2.35],[0.97,2.2],[0.99,2.55],[1.0,2.4],[1.0,2.15],[1.0,2.6],[0.98,2.1],[0.57,1.5]];
const illCosmosR2 = [[0.0,2.75],[0.0,2.6],[0.0,2.45],[0.0,2.3],[0.01,2.8],[0.07,2.75],[0.07,2.6],[0.08,2.7],[0.08,2.65],[0.09,2.8],[0.09,2.55],[0.1,2.7],[0.06,2.5],[0.29,2.6],[0.3,2.5],[0.31,2.65],[0.32,2.8],[0.28,2.45],[0.53,2.7],[0.54,2.65],[0.55,2.72],[0.56,2.6],[0.57,2.68],[0.58,2.6],[0.93,2.55],[0.94,2.6],[0.95,2.5],[0.96,2.45],[0.97,2.3],[0.98,2.25],[0.99,2.35],[1.0,2.2],[1.0,2.3],[0.92,2.55],[0.73,2.4],[0.74,2.45],[0.75,2.35]];
const illElaisR = [[0.0,1.95],[0.0,1.65],[0.0,1.55],[0.01,2.0],[0.02,1.9],[0.03,1.95],[0.08,1.8],[0.09,1.85],[0.14,1.9],[0.15,1.75],[0.17,1.45],[0.18,1.5],[0.21,1.95],[0.22,2.02],[0.28,1.8],[0.29,1.85],[0.3,1.65],[0.35,1.95],[0.35,1.9],[0.4,1.85],[0.42,1.8],[0.45,1.65],[0.46,1.15],[0.47,1.5],[0.5,2.0],[0.5,1.95],[0.6,1.75],[0.62,1.8],[0.71,1.2],[0.72,1.5],[0.73,1.35],[0.75,1.9],[0.76,2.0],[0.77,2.2],[0.78,1.85],[0.79,1.95],[0.8,1.6],[0.8,1.5],[0.82,1.75],[0.83,1.65],[0.85,1.55],[0.9,1.55],[0.91,1.7],[0.92,1.6],[0.93,1.75],[0.94,2.1],[0.94,1.45],[0.95,1.65],[0.96,1.55],[0.97,1.35],[0.98,1.1],[0.99,1.8],[1.0,1.6],[1.0,1.4],[1.0,1.25],[1.0,1.5],[0.93,1.15]];
const illElaisR2 = [[0.0,1.9],[0.01,1.95],[0.02,1.98],[0.0,2.0],[0.92,1.65],[0.93,1.7],[0.94,1.6],[0.95,1.55],[0.96,1.65],[0.97,1.6],[0.98,1.7],[0.99,1.55],[1.0,1.65],[1.0,1.45],[1.0,1.35],[1.0,1.3],[0.99,1.75],[0.76,1.8],[0.77,1.85],[0.78,1.9],[0.79,1.7],[0.8,1.65],[0.81,1.55],[0.85,1.6],[0.88,1.55],[0.9,1.6],[0.74,1.95],[0.35,1.92],[0.36,1.88],[0.5,1.98]];
const illCosmosI = [[0.0,2.25],[0.0,2.15],[0.0,2.05],[0.0,1.9],[0.0,1.75],[0.01,2.2],[0.0,1.6],[0.06,1.95],[0.07,1.85],[0.07,2.1],[0.08,2.0],[0.08,1.9],[0.09,2.15],[0.09,1.8],[0.1,1.75],[0.1,2.25],[0.17,2.18],[0.18,2.1],[0.26,1.85],[0.27,2.05],[0.28,1.95],[0.28,1.7],[0.29,2.15],[0.3,1.85],[0.31,2.2],[0.32,2.28],[0.28,1.55],[0.3,1.45],[0.45,2.15],[0.46,2.05],[0.46,1.9],[0.53,2.0],[0.55,2.05],[0.57,1.85],[0.58,1.9],[0.6,2.1],[0.62,2.05],[0.64,2.0],[0.65,1.9],[0.65,1.3],[0.59,1.28],[0.72,1.95],[0.73,1.7],[0.74,1.85],[0.75,2.0],[0.8,2.05],[0.82,1.95],[0.82,2.12],[0.91,2.05],[0.92,1.9],[0.93,1.8],[0.94,2.0],[0.95,1.85],[0.96,1.75],[0.97,1.95],[0.98,1.6],[1.0,1.85],[1.0,1.7],[1.0,1.55],[0.91,1.6],[0.53,1.85]];
const illCosmosI2 = [[0.0,2.2],[0.0,2.1],[0.0,2.0],[0.0,1.85],[0.07,1.95],[0.08,1.85],[0.08,2.1],[0.09,1.95],[0.09,2.05],[0.1,1.9],[0.1,1.85],[0.28,2.0],[0.29,1.9],[0.3,2.05],[0.31,2.1],[0.32,2.15],[0.74,1.75],[0.75,1.8],[0.73,1.9],[0.92,2.0],[0.93,1.95],[0.94,1.9],[0.95,1.95],[0.96,1.85],[0.97,1.8],[0.98,1.75],[0.99,1.8],[1.0,1.75],[1.0,1.65],[0.6,2.0],[0.55,1.9],[0.63,1.95]];
const illElaisI = [[0.0,1.45],[0.01,1.65],[0.01,1.4],[0.0,1.15],[0.02,1.55],[0.08,1.25],[0.09,1.3],[0.13,1.2],[0.14,1.25],[0.18,1.05],[0.2,1.88],[0.22,1.6],[0.23,1.5],[0.27,1.3],[0.3,2.0],[0.34,1.4],[0.35,1.45],[0.4,1.35],[0.42,1.85],[0.43,1.25],[0.45,1.2],[0.49,1.6],[0.5,1.55],[0.61,1.0],[0.62,1.1],[0.68,1.05],[0.74,1.9],[0.75,1.75],[0.76,1.8],[0.77,1.6],[0.78,1.0],[0.79,1.5],[0.8,1.2],[0.81,1.3],[0.82,1.1],[0.83,1.55],[0.88,1.05],[0.89,1.25],[0.9,1.35],[0.91,1.15],[0.92,1.75],[0.93,1.45],[0.94,1.85],[0.95,1.65],[0.96,1.0],[0.97,1.2],[0.98,1.35],[0.99,1.05],[1.0,1.4],[1.0,1.5],[0.96,1.8],[0.92,1.25]];
const illElaisI2 = [[0.0,1.5],[0.01,1.55],[0.02,1.45],[0.9,1.2],[0.91,1.3],[0.92,1.4],[0.93,1.2],[0.94,1.7],[0.95,1.8],[0.96,1.75],[0.97,1.3],[0.98,1.15],[0.99,1.25],[1.0,1.2],[1.0,1.1],[0.78,1.45],[0.79,1.35],[0.8,1.6],[0.81,1.7],[0.82,1.4],[0.77,1.75],[0.76,1.65],[0.6,1.05],[0.62,1.15],[0.5,1.65],[0.49,1.5]];

const panelData = [
  [[magCosmosG.concat(magCosmosG2), magElaisG.concat(magElaisG2)], [magCosmosR.concat(magCosmosR2), magElaisR.concat(magElaisR2)], [magCosmosI.concat(magCosmosI2), magElaisI.concat(magElaisI2)]],
  [[seeCosmosG.concat(seeCosmosG2), seeElaisG.concat(seeElaisG2)], [seeCosmosR.concat(seeCosmosR2), seeElaisR.concat(seeElaisR2)], [seeCosmosI.concat(seeCosmosI2), seeElaisI.concat(seeElaisI2)]],
  [[skyCosmosG.concat(skyCosmosG2), skyElaisG.concat(skyElaisG2)], [skyCosmosR.concat(skyCosmosR2), skyElaisR.concat(skyElaisR2)], [skyCosmosI.concat(skyCosmosI2), skyElaisI.concat(skyElaisI2)]],
  [[sepCosmosG.concat(sepCosmosG2), sepElaisG.concat(sepElaisG2)], [sepCosmosR.concat(sepCosmosR2), sepElaisR.concat(sepElaisR2)], [sepCosmosI.concat(sepCosmosI2), sepElaisI.concat(sepElaisI2)]],
  [[illCosmosG.concat(illCosmosG2), illElaisG.concat(illElaisG2)], [illCosmosR.concat(illCosmosR2), illElaisR.concat(illElaisR2)], [illCosmosI.concat(illCosmosI2), illElaisI.concat(illElaisI2)]],
];

const rowAxes = [
  { name: "Mean Limiting Magnitude", min: 20, max: 25, ticks: magTicks, digits: 0 },
  { name: "Mean Seeing", min: 0.5, max: 2.5, ticks: seeingTicks, digits: 1 },
  { name: "Mean Sky Background", min: 0, max: 2.5, ticks: skyTicks, digits: 1 },
  { name: "Moon Separation [degrees]", min: 19.5, max: 174.5, ticks: sepTicks, digits: 0 },
  { name: "Moon Illumination Fraction", min: -0.05, max: 1.05, ticks: illumTicks, digits: 1 },
];

const FONT = "DejaVu Sans";
const ROW_TOPS = [22, 264, 505, 747, 988];
const COL_LEFTS = [71, 418, 764];
const PW = 288;
const PH = 179;

function buildOption() {
  const grid: any[] = [];
  const xAxis: any[] = [];
  const yAxis: any[] = [];
  const series: any[] = [];
  const legend: any[] = [];
  let idx = 0;
  for (let r = 0; r < 5; r++) {
    for (let c = 0; c < 3; c++) {
      grid.push({
        left: COL_LEFTS[c],
        top: ROW_TOPS[r],
        width: PW,
        height: PH,
        show: true,
        borderColor: "#000",
        borderWidth: 1,
        backgroundColor: "transparent",
        containLabel: false,
      });
      const ax = rowAxes[r];
      xAxis.push({
        type: "value",
        gridIndex: idx,
        min: ax.min,
        max: ax.max,
        name: ax.name,
        nameLocation: "middle",
        nameGap: 25,
        nameTextStyle: { fontFamily: FONT, fontSize: 15, color: "#000" },
        axisLine: { show: true, onZero: false, lineStyle: { color: "#000", width: 1 } },
        axisTick: { show: true, length: 5, inside: false, customValues: ax.ticks, lineStyle: { color: "#000" } },
        axisLabel: {
          show: true,
          customValues: ax.ticks,
          margin: 6,
          fontFamily: FONT,
          fontSize: 15,
          color: "#000",
          formatter: (v: number) => v.toFixed(ax.digits),
        },
        splitLine: { show: false },
      });
      yAxis.push({
        type: "value",
        gridIndex: idx,
        min: 1,
        max: 3,
        interval: 0.5,
        name: c === 0 ? "{t|log }{i|N}{s|obj}{t| (}{i|S}{s|R/B}{t| > 0.6)}" : "",
        nameLocation: "middle",
        nameRotate: 90,
        nameGap: 37,
        nameTextStyle: {
          fontFamily: FONT,
          fontSize: 15,
          color: "#000",
          rich: {
            t: { fontFamily: FONT, fontSize: 15, color: "#000", lineHeight: 20 },
            i: { fontFamily: FONT, fontSize: 15, color: "#000", fontStyle: "italic", lineHeight: 20 },
            s: { fontFamily: FONT, fontSize: 10.5, color: "#000", lineHeight: 12, verticalAlign: "bottom" },
          },
        },
        axisLine: { show: true, onZero: false, lineStyle: { color: "#000", width: 1 } },
        axisTick: { show: true, length: 5, inside: false, lineStyle: { color: "#000" } },
        axisLabel: {
          show: true,
          margin: 7,
          fontFamily: FONT,
          fontSize: 15,
          color: "#000",
          formatter: (v: number) => v.toFixed(1),
        },
        splitLine: { show: false },
      });
      const [cosmos, elais] = panelData[r][c];
      [cosmos, elais].forEach((d, k) => {
        series.push({
          type: "scatter",
          name: seriesNames[c][k],
          xAxisIndex: idx,
          yAxisIndex: idx,
          data: d,
          symbol: "circle",
          symbolSize: 6,
          itemStyle: { color: seriesColors[c][k], opacity: 0.42, borderWidth: 0 },
          emphasis: { disabled: true },
          silent: true,
          z: 2 + k,
        });
      });
      idx++;
    }
  }
  for (let c = 0; c < 3; c++) {
    legend.push({
      show: true,
      orient: "vertical",
      left: COL_LEFTS[c] + 8,
      top: ROW_TOPS[0] + 7,
      selectedMode: false,
      icon: "circle",
      itemWidth: 8,
      itemHeight: 8,
      itemGap: 0,
      padding: [5, 7, 5, 14],
      backgroundColor: "rgba(255,255,255,0.8)",
      borderColor: "#cccccc",
      borderWidth: 1,
      borderRadius: 4,
      textStyle: { fontFamily: FONT, fontSize: 14, color: "#000", lineHeight: 15, padding: [0, 0, 0, 6] },
      data: seriesNames[c].map((n, k) => ({
        name: n,
        itemStyle: { color: seriesColors[c][k], opacity: 1 },
      })),
      z: 10,
    });
  }
  return {
    animation: false,
    backgroundColor: "#fff",
    textStyle: { fontFamily: FONT },
    grid,
    xAxis,
    yAxis,
    series,
    legend,
  };
}

export default function App() {
  const ref = useRef<HTMLDivElement>(null);
  useEffect(() => {
    if (!ref.current) return;
    const chart = echarts.init(ref.current, undefined, { renderer: "svg" });
    chart.setOption(buildOption() as any);
    return () => chart.dispose();
  }, []);
  return (
    <div
      ref={ref}
      style={{ position: "absolute", left: 0, top: 0, width: 1080, height: 1224, background: "#fff" }}
    />
  );
}
